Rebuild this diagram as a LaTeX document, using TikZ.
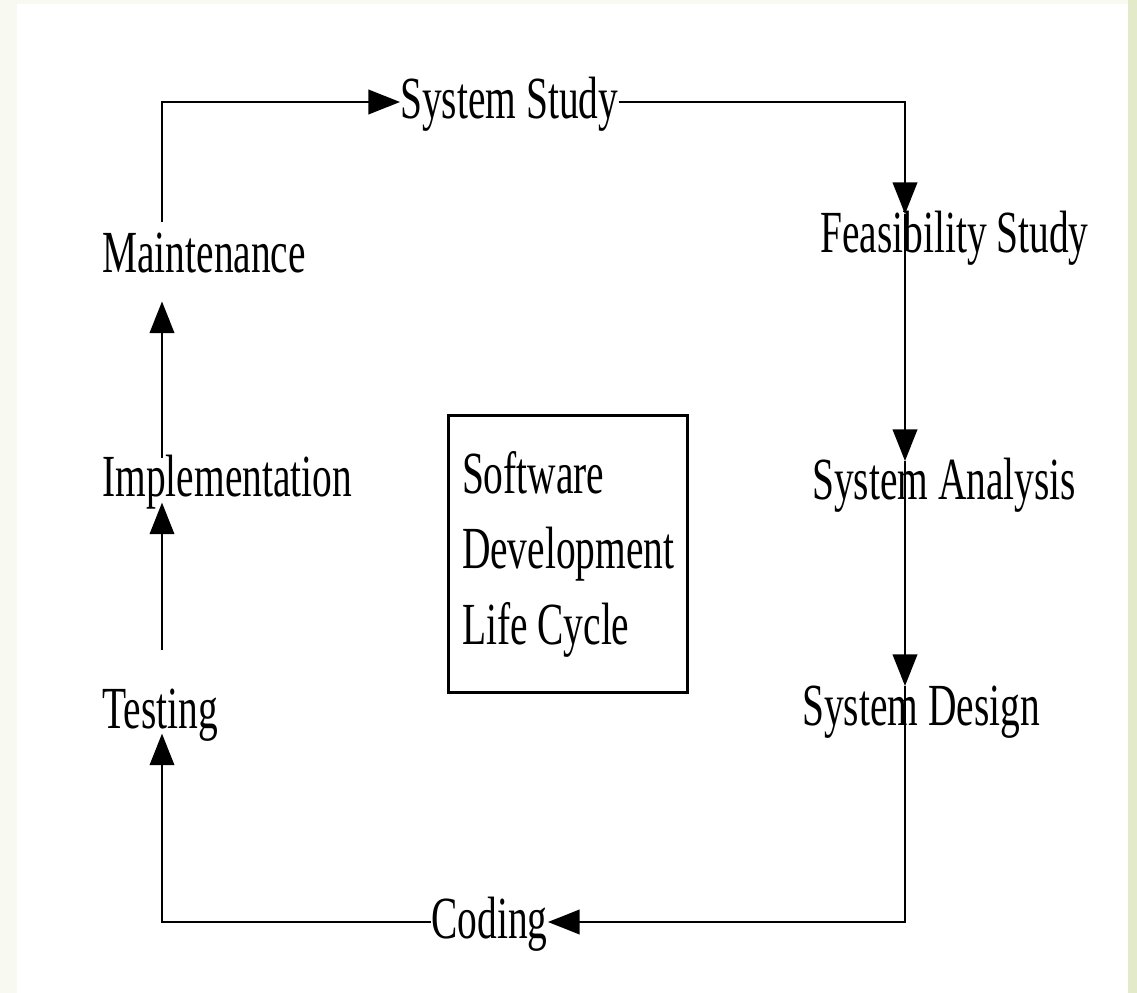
\documentclass[tikz,border=0pt]{standalone}
\usepackage{fontspec}
\setmainfont{Liberation Serif}[FakeStretch=0.66]
\usetikzlibrary{arrows.meta}
\definecolor{bgside}{RGB}{248,249,241}
\definecolor{bgright}{RGB}{226,234,201}

\begin{document}
\begin{tikzpicture}[x=0.02cm,y=-0.02cm,
	lbl/.style={inner sep=0pt,text height=22pt,text depth=3pt,font=\fontsize{34pt}{43pt}\selectfont},
	flow/.style={line width=1.1pt,-{Triangle[length=18pt,width=14pt]}}]
	\fill[bgside] (0,0) rectangle (1137,993);
	\fill[bgright] (1128,0) rectangle (1137,993);
	\fill[white] (17,4) rectangle (1128,993);
	% the two sides of the loop
	\coordinate (left) at (162,0);
	\coordinate (right) at (905,0);
	% stages
	\node[lbl,anchor=west] (study) at (400,102) {System Study};
	\node[lbl,anchor=base west] (feas) at (820,253) {Feasibility Study};
	\node[lbl,anchor=base west] (anal) at (812,500) {System Analysis};
	\node[lbl,anchor=base west] (des) at (802,725) {System Design};
	\node[lbl,anchor=east] (cod) at (548,922) {Coding};
	\node[lbl,anchor=base west] (test) at (102,728) {Testing};
	\node[lbl,anchor=base west] (impl) at (102,497) {Implementation};
	\node[lbl,anchor=base west] (maint) at (102,273) {Maintenance};
	% middle box
	\node[draw,line width=1.7pt,inner sep=0pt,minimum width=4.8cm,minimum height=5.54cm,
		text width=4.24cm,align=flush left,font=\fontsize{34pt}{43pt}\selectfont] (sdlc) at (568,554)
		{Software\\Development\\Life Cycle};
	% arrows
	\draw[flow] (study.east) -| (feas.north -| right);
	\draw[flow] (feas.north -| right) -- (anal.north -| right);
	\draw[flow] (anal.north -| right) -- (des.north -| right);
	\draw[flow] (des.north -| right) |- (cod.east);
	\draw[flow] (cod.west) -| (test.south -| left);
	\draw[flow,shorten <=22pt] (test.north -| left) -- (impl.south -| left);
	\draw[flow,shorten >=13pt] (impl.north -| left) -- (maint.south -| left);
	\draw[flow,shorten <=7pt] (maint.north -| left) |- (study.west);
\end{tikzpicture}
\end{document}
